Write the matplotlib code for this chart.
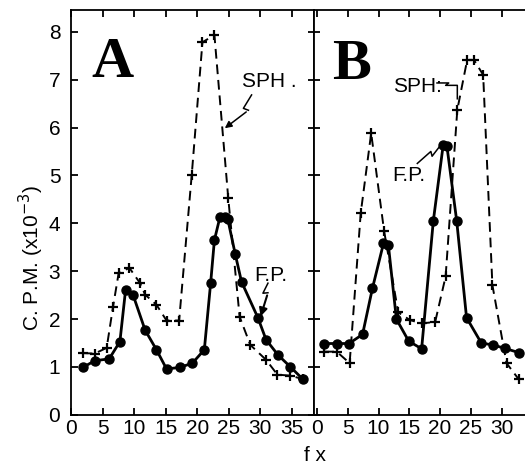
import matplotlib
matplotlib.use("Agg")
import matplotlib.pyplot as plt

plt.rcParams['font.family'] = ['Liberation Sans Narrow', 'Liberation Sans', 'DejaVu Sans']

# panel A: F.P. (solid, dots) and SPH. (dashed, crosses)
a_fp_x = [1.8, 3.7, 6.0, 7.7, 8.6, 9.8, 11.7, 13.5, 15.1, 17.2, 19.2, 21.1,
          22.1, 22.7, 23.6, 24.4, 24.8, 26.0, 27.0, 29.6, 30.9, 32.8, 34.7, 36.7]
a_fp_y = [0.99, 1.13, 1.17, 1.53, 2.61, 2.50, 1.77, 1.36, 0.96, 0.99, 1.08, 1.36,
          2.75, 3.65, 4.14, 4.14, 4.10, 3.36, 2.78, 2.03, 1.57, 1.25, 1.01, 0.75]
a_sph_x = [1.8, 3.7, 5.6, 6.6, 7.5, 9.2, 10.9, 11.7, 13.5, 15.1, 17.1, 19.1,
           20.8, 22.7, 24.9, 26.7, 28.4, 30.9, 32.7, 34.7, 36.7]
a_sph_y = [1.29, 1.28, 1.40, 2.25, 2.96, 3.07, 2.75, 2.51, 2.30, 1.97, 1.97, 5.01,
           7.78, 7.93, 4.52, 2.05, 1.46, 1.15, 0.84, 0.82, 0.75]

# panel B
b_fp_x = [1.2, 3.2, 5.2, 7.4, 9.0, 10.8, 11.6, 12.9, 14.9, 17.0, 18.9, 20.5,
          21.1, 22.7, 24.3, 26.7, 28.6, 30.5, 32.8]
b_fp_y = [1.49, 1.49, 1.49, 1.68, 2.64, 3.58, 3.54, 2.00, 1.54, 1.38, 4.05, 5.63,
          5.62, 4.05, 2.03, 1.50, 1.46, 1.39, 1.30]
b_sph_x = [1.2, 3.2, 5.3, 7.1, 8.8, 10.9, 13.2, 15.1, 17.0, 19.2, 20.9, 22.8,
           24.4, 25.5, 27.0, 28.5, 30.8, 32.8]
b_sph_y = [1.32, 1.32, 1.08, 4.21, 5.88, 3.84, 2.14, 1.98, 1.91, 1.94, 2.89, 6.37,
           7.41, 7.41, 7.10, 2.71, 1.08, 0.74]

y_ticks = [0, 1, 2, 3, 4, 5, 6, 7, 8]
a_xticks = [0, 5, 10, 15, 20, 25, 30, 35]
b_xticks = [0, 5, 10, 15, 20, 25, 30]

fig = plt.figure(figsize=(5.25, 4.72), dpi=100)
axA = fig.add_axes([0.136, 0.121, 0.462, 0.858])
axB = fig.add_axes([0.598, 0.121, 0.402, 0.858])

fp_style = dict(color='black', lw=2.0, marker='o', ms=6.5, mfc='black', mec='black')
sph_style = dict(color='black', lw=1.4, ls=(0, (5, 3)), marker='+', ms=6.5, mew=1.6)

for ax, fx, fy, sx, sy in [(axA, a_fp_x, a_fp_y, a_sph_x, a_sph_y),
                           (axB, b_fp_x, b_fp_y, b_sph_x, b_sph_y)]:
    ax.plot(sx, sy, **sph_style)
    ax.plot(fx, fy, **fp_style)
    ax.set_ylim(0, 8.455)
    ax.set_yticks(y_ticks)
    for s in ax.spines.values():
        s.set_linewidth(1.3)
    ax.tick_params(axis='both', labelsize=15, width=1.3, length=5, top=True)
    ax.tick_params(axis='x', direction='in', pad=3)

axA.set_xlim(0, 38.5)
axA.set_xticks(a_xticks)
axA.tick_params(axis='y', direction='in', pad=8)

axB.set_xlim(-0.5, 33.8)
axB.set_xticks(b_xticks)
axB.tick_params(axis='y', direction='inout', length=8, labelleft=False)
axB.spines['right'].set_visible(False)

# panel letters
axA.text(3.2, 7.35, 'A', family=['Liberation Serif', 'DejaVu Serif'],
         fontsize=42, fontweight='bold', va='center', ha='left')
axB.text(2.5, 7.3, 'B', family=['Liberation Serif', 'DejaVu Serif'],
         fontsize=42, fontweight='bold', va='center', ha='left')

# labels with zigzag pointers
lab = dict(fontsize=15, va='center', ha='left')
axA.text(27.1, 6.95, 'SPH .', **lab)
axA.plot([28.6, 27.3, 28.1], [6.68, 6.40, 6.36], color='black', lw=1.1)
axA.annotate('', xy=(24.0, 5.95), xytext=(28.1, 6.36),
             arrowprops=dict(arrowstyle='-|>', color='black', lw=1.1, mutation_scale=10))

axA.text(29.1, 2.92, 'F.P.', **lab)
axA.plot([31.2, 30.4, 31.2], [2.75, 2.54, 2.55], color='black', lw=1.1)
axA.annotate('', xy=(29.9, 2.0), xytext=(31.2, 2.55),
             arrowprops=dict(arrowstyle='-|>', color='black', lw=1.5, mutation_scale=12))

axB.text(12.3, 6.85, 'SPH:', **lab)
axB.plot([19.5, 21.4, 20.9, 22.8, 22.8], [6.93, 6.93, 6.88, 6.88, 6.6],
         color='black', lw=1.1)

axB.text(12.3, 5.0, 'F.P.', **lab)
axB.plot([16.3, 18.5, 18.7, 19.9], [5.25, 5.50, 5.40, 5.60], color='black', lw=1.1)

fig.text(0.06, 0.453, 'C. P.M. (x10$^{-3}$)', rotation=90, fontsize=15,
         ha='center', va='center')
fig.text(0.6, 0.036, 'f x', fontsize=15, ha='center', va='center')

fig.savefig('out.png', dpi=100)
